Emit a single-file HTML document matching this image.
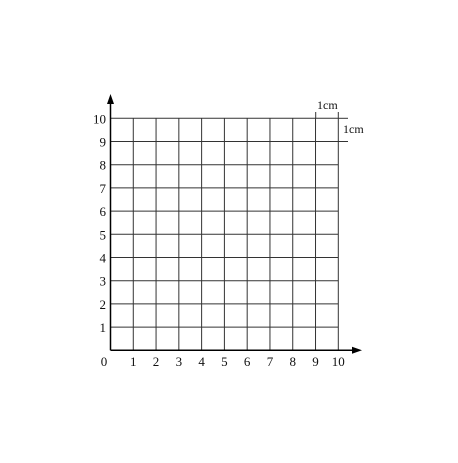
<!DOCTYPE html>
<html><head><meta charset="utf-8"><style>html,body{margin:0;padding:0;background:#fff}</style></head>
<body>
<svg width="458" height="458" xmlns="http://www.w3.org/2000/svg" font-family="Liberation Serif, serif" font-size="13">
<g id="grid" stroke="#333" stroke-width="1"></g>
<g id="axes"></g>
<g id="labels" fill="#111"></g>
<g stroke="#333" stroke-width="1">
<line x1="315.7" y1="112" x2="315.7" y2="118.3"/>
<line x1="338.3" y1="112" x2="338.3" y2="118.3"/>
<line x1="338.3" y1="118.3" x2="348" y2="118.3"/>
<line x1="338.3" y1="141.5" x2="348" y2="141.5"/>
</g>
<text x="317" y="109" fill="#111" font-size="12">1cm</text>
<text x="343" y="133" fill="#111" font-size="12">1cm</text>
<script>
const xTicks=[0,1,2,3,4,5,6,7,8,9,10];
const yTicks=[1,2,3,4,5,6,7,8,9,10];
const ns="http://www.w3.org/2000/svg";
const x0=110.5,y0=350.3,dx=22.78,dy=23.2;
const sx=v=>x0+v*dx, sy=v=>y0-v*dy;
const g=document.getElementById('grid'),ax=document.getElementById('axes'),lb=document.getElementById('labels');
function mk(t,a){const e=document.createElementNS(ns,t);for(const k in a)e.setAttribute(k,a[k]);return e;}
xTicks.forEach(v=>{if(v===0)return;const l=mk('line',{x1:sx(v),y1:sy(0),x2:sx(v),y2:sy(10)});

g.appendChild(l);});
yTicks.forEach(v=>{const l=mk('line',{x1:sx(0),y1:sy(v),x2:sx(10),y2:sy(v)});

g.appendChild(l);});
const xa=mk('line',{x1:sx(0),y1:y0,x2:356,y2:y0,stroke:'#000','stroke-width':1.5});

ax.appendChild(xa);
const xh=mk('polygon',{points:`362,${y0} 352,${y0-3.5} 352,${y0+3.5}`,fill:'#000'});

ax.appendChild(xh);
const ya=mk('line',{x1:x0,y1:y0,x2:x0,y2:100,stroke:'#000','stroke-width':1.5});

ax.appendChild(ya);
const yh=mk('polygon',{points:`${x0},94 ${x0-3.5},104 ${x0+3.5},104`,fill:'#000'});

ax.appendChild(yh);
xTicks.forEach(v=>{const t=mk('text',{x:v===0?104:sx(v),y:366,'text-anchor':'middle'});t.textContent=v;

lb.appendChild(t);});
yTicks.forEach(v=>{const t=mk('text',{x:106,y:sy(v)+5,'text-anchor':'end'});t.textContent=v;

lb.appendChild(t);});
</script>
</svg>
</body></html>
